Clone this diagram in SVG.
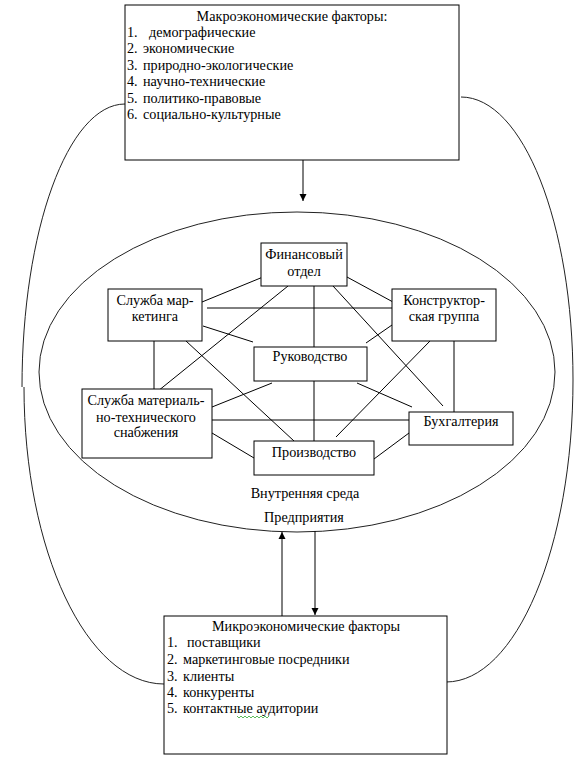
<svg xmlns="http://www.w3.org/2000/svg" width="586" height="758" viewBox="0 0 586 758">
<style>
.box{fill:#fff;stroke:#000;stroke-width:1}
.t{font-family:"Liberation Serif","Times New Roman",serif;font-size:14.2px;fill:#000}
.c{text-anchor:middle}
.ln{stroke:#000;stroke-width:1;fill:none}
.cv{stroke:#222;stroke-width:1;fill:none}
</style>
<defs>
<marker id="ah" viewBox="0 0 10 10" refX="10" refY="5" markerWidth="7" markerHeight="8" markerUnits="userSpaceOnUse" orient="auto">
<path d="M0,0 L10,5 L0,10 z" fill="#000"/>
</marker>
</defs>
<rect width="586" height="758" fill="#fff"/>
<g id="outer-curves">
<path class="cv" d="M125,104 C68,104 22,231 22,387"/>
<path class="cv" d="M24,387 C24,551 87,684 164,684"/>
<path class="cv" d="M461,97 C523,97 573,224 573,380 C573,547 516,682 446,682"/>
</g>
<g id="ellipse">
<ellipse class="cv" cx="297" cy="372" rx="258" ry="160"/>
<text class="t c" x="305" y="498">Внутренняя среда</text>
<text class="t c" x="304" y="522">Предприятия</text>
</g>
<g id="connectors">
<line class="ln" x1="303" y1="160" x2="303" y2="201" marker-end="url(#ah)"/>
<line class="ln" x1="282" y1="616" x2="282" y2="532" marker-end="url(#ah)"/>
<line class="ln" x1="315" y1="531" x2="315" y2="615" marker-end="url(#ah)"/>
<line class="ln" x1="202" y1="302" x2="263" y2="277"/>
<line class="ln" x1="207" y1="308" x2="392" y2="308"/>
<line class="ln" x1="203" y1="326" x2="253" y2="342"/>
<line class="ln" x1="154" y1="341" x2="154" y2="389"/>
<line class="ln" x1="158" y1="391" x2="288" y2="286"/>
<line class="ln" x1="186" y1="341" x2="294" y2="441"/>
<line class="ln" x1="212" y1="407" x2="272" y2="383"/>
<line class="ln" x1="212" y1="420" x2="409" y2="420"/>
<line class="ln" x1="212" y1="433" x2="254" y2="458"/>
<line class="ln" x1="347" y1="277" x2="393" y2="302"/>
<line class="ln" x1="314" y1="286" x2="314" y2="347"/>
<line class="ln" x1="314" y1="381" x2="314" y2="447"/>
<line class="ln" x1="333" y1="286" x2="443" y2="406"/>
<line class="ln" x1="392" y1="325" x2="366" y2="343"/>
<line class="ln" x1="430" y1="341" x2="336" y2="437"/>
<line class="ln" x1="454" y1="341" x2="454" y2="412"/>
<line class="ln" x1="357" y1="383" x2="412" y2="407"/>
<line class="ln" x1="409" y1="433" x2="374" y2="459"/>
</g>
<g id="macro">
<rect class="box" x="125" y="5" width="334" height="155"/>
<text class="t c" x="292" y="21">Макроэкономические факторы:</text>
<text class="t" x="127" y="37">1.</text><text class="t" x="149" y="37">демографические</text>
<text class="t" x="127" y="53">2.</text><text class="t" x="143" y="53">экономические</text>
<text class="t" x="127" y="70">3.</text><text class="t" x="143" y="70">природно-экологические</text>
<text class="t" x="127" y="86">4.</text><text class="t" x="143" y="86">научно-технические</text>
<text class="t" x="127" y="103">5.</text><text class="t" x="143" y="103">политико-правовые</text>
<text class="t" x="127" y="119">6.</text><text class="t" x="143" y="119">социально-культурные</text>
</g>
<g id="micro">
<rect class="box" x="164" y="616" width="283" height="138"/>
<text class="t c" x="306" y="631">Микроэкономические факторы</text>
<text class="t" x="167" y="647">1.</text><text class="t" x="187" y="647">поставщики</text>
<text class="t" x="167" y="664">2.</text><text class="t" x="183" y="664">маркетинговые посредники</text>
<text class="t" x="167" y="681">3.</text><text class="t" x="183" y="681">клиенты</text>
<text class="t" x="167" y="697">4.</text><text class="t" x="183" y="697">конкуренты</text>
<text class="t" x="167" y="713">5.</text><text class="t" x="183" y="713">контактные аудитории</text>
<polyline points="237,716 239,718 241,716 243,718 245,716 247,718 249,716 251,718 253,716 255,718 257,716 259,718 261,716 263,718 265,716 267,718 269,716" fill="none" stroke="#3a3" stroke-width="0.8"/>
</g>
<g id="finance">
<rect class="box" x="261" y="243" width="86" height="43"/>
<text class="t c" x="304" y="259">Финансовый</text>
<text class="t c" x="304" y="276">отдел</text>
</g>
<g id="marketing">
<rect class="box" x="108" y="289" width="94" height="52"/>
<text class="t c" x="155" y="305">Служба мар-</text>
<text class="t c" x="155" y="321">кетинга</text>
</g>
<g id="design">
<rect class="box" x="392" y="289" width="104" height="52"/>
<text class="t c" x="444" y="305">Конструктор-</text>
<text class="t c" x="444" y="321">ская группа</text>
</g>
<g id="management">
<rect class="box" x="254" y="347" width="113" height="34"/>
<text class="t c" x="310" y="361">Руководство</text>
</g>
<g id="supply">
<rect class="box" x="82" y="389" width="130" height="69"/>
<text class="t c" x="146" y="405">Служба материаль-</text>
<text class="t c" x="146" y="422">но-технического</text>
<text class="t c" x="146" y="437">снабжения</text>
</g>
<g id="accounting">
<rect class="box" x="409" y="412" width="104" height="33"/>
<text class="t c" x="461" y="426">Бухгалтерия</text>
</g>
<g id="production">
<rect class="box" x="254" y="441" width="120" height="34"/>
<text class="t c" x="314" y="457">Производство</text>
</g>
</svg>
